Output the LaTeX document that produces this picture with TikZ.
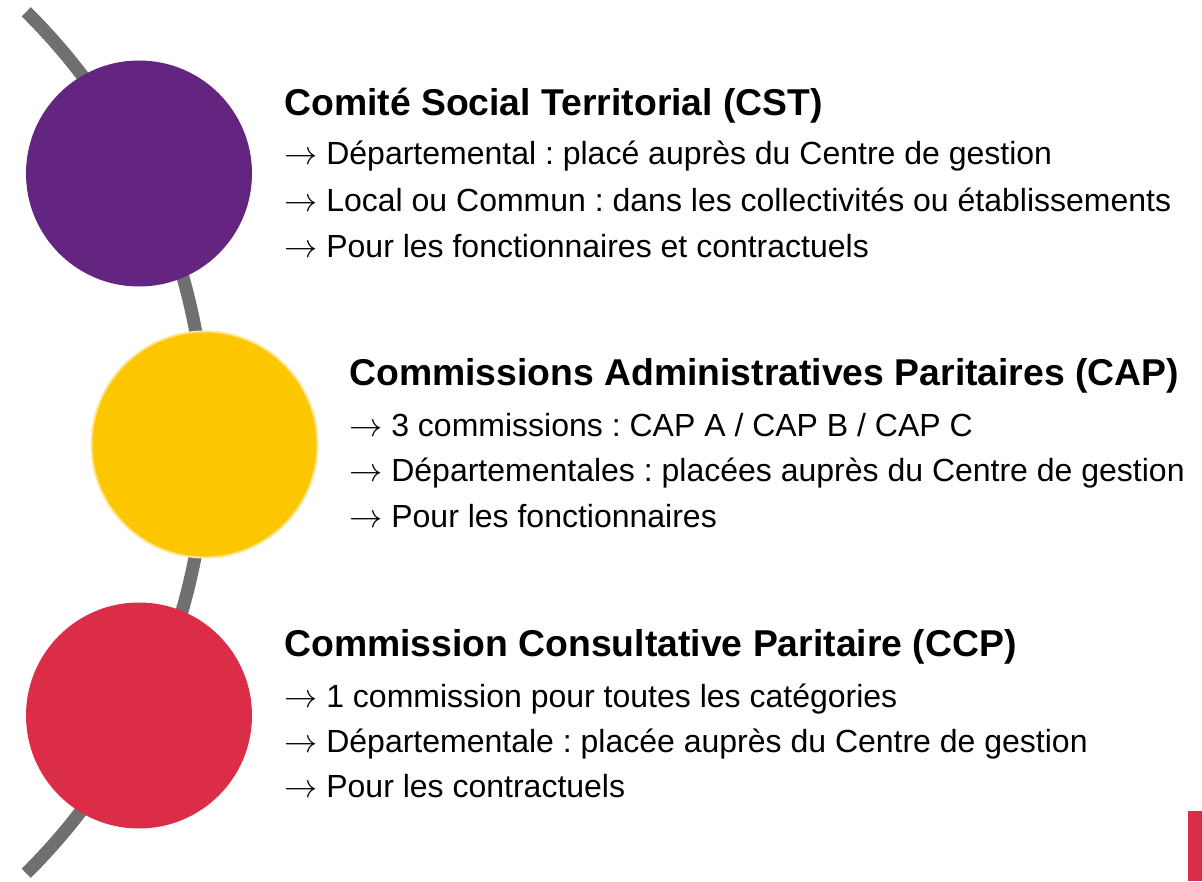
\documentclass[tikz,border=0pt]{standalone}
\usepackage{fontspec}
\setmainfont{Liberation Sans}
\usetikzlibrary{positioning}
\definecolor{cstviolet}{HTML}{642580}
\definecolor{capjaune}{HTML}{FCC600}
\definecolor{capbord}{HTML}{FFE48C}
\definecolor{ccprouge}{HTML}{DC2D48}
\definecolor{arcgris}{HTML}{707070}
\tikzset{x=0.75pt, y=-0.75pt,
         rond/.style={circle, inner sep=0pt, minimum size=169.5pt},
         titre/.style={anchor=base west, inner sep=0pt, font=\fontsize{28}{32}\selectfont\bfseries},
         ligne/.style={anchor=base west, inner sep=0pt, font=\fontsize{24}{28}\selectfont},
         fil/.style={arcgris, line width=9.75pt}}
\newcommand{\fl}{$\rightarrow$ }
\frenchspacing

\begin{document}
\begin{tikzpicture}
	\useasboundingbox (0,0) rectangle (1202,881);

	% the grey curve behind the discs
	\draw[fil] (-400,442.5) ++(-45.3:606) arc[start angle=-45.3, end angle=45.3, radius=606];

	\node[rond, fill=cstviolet] (cst) at (139,173.5) {};
	\node[rond, fill=capjaune, draw=capbord, line width=1.5pt] (cap) at (204.5,444.5) {};
	\node[rond, fill=ccprouge] (ccp) at (139,715.5) {};

	% CST
	\node[titre] (cst-t) at (284,115) {Comité Social Territorial (CST)};
	\node[ligne] (cst-1) at (284,164) {\fl Départemental : placé auprès du Centre de gestion};
	\node[ligne] (cst-2) at (284,211) {\fl Local ou Commun : dans les collectivités ou établissements};
	\node[ligne] (cst-3) at (284,257) {\fl Pour les fonctionnaires et contractuels};

	% CAP
	\node[titre] (cap-t) at (349,385) {Commissions Administratives Paritaires (CAP)};
	\node[ligne] (cap-1) at (349,436) {\fl 3 commissions : CAP A / CAP B / CAP C};
	\node[ligne] (cap-2) at (349,481.5) {\fl Départementales : placées auprès du Centre de gestion};
	\node[ligne] (cap-3) at (349,527) {\fl Pour les fonctionnaires};

	% CCP
	\node[titre] (ccp-t) at (284,656) {Commission Consultative Paritaire (CCP)};
	\node[ligne] (ccp-1) at (284,707.5) {\fl 1 commission pour toutes les catégories};
	\node[ligne] (ccp-2) at (284,752.5) {\fl Départementale : placée auprès du Centre de gestion};
	\node[ligne] (ccp-3) at (284,797.5) {\fl Pour les contractuels};

	\fill[ccprouge] (1187.5,811) rectangle (1202,881);
\end{tikzpicture}
\end{document}
